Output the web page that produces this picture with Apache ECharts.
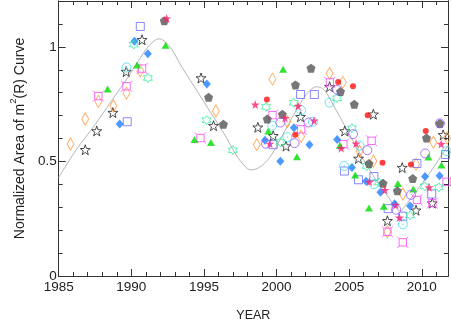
<!DOCTYPE html>
<html><head><meta charset="utf-8">
<script src="https://cdn.jsdelivr.net/npm/echarts@6/dist/echarts.min.js"></script>
<style>html,body{margin:0;padding:0;background:#fff}#c{width:451px;height:327px}</style>
</head><body><div id="c"></div>
<script>
// ---- data ----
const xTickLabels = [1985, 1990, 1995, 2000, 2005, 2010];
const yTickLabels = [0, 0.5, 1];

const curve = [[1985,0.43],[1986.2,0.55],[1987.5,0.66],[1988.7,0.77],[1989.8,0.87],[1990.7,0.96],[1991.3,1.01],[1991.9,1.035],[1992.6,1.005],[1993.5,0.91],[1994.5,0.81],[1995.5,0.71],[1996.4,0.62],[1997.2,0.53],[1997.8,0.48],[1998.2,0.463],[1998.7,0.47],[1999.3,0.5],[1999.8,0.544],[2000.8,0.66],[2001.8,0.77],[2002.3,0.81],[2002.75,0.826],[2003.3,0.81],[2004.0,0.735],[2004.7,0.655],[2005.4,0.573],[2006.3,0.473],[2007.0,0.405],[2007.7,0.344],[2008.2,0.3],[2008.5,0.284],[2008.9,0.31],[2009.5,0.36],[2010.2,0.42],[2010.8,0.473],[2011.8,0.57]];

const blackStar = [[1986.83,0.551],[1987.62,0.633],[1988.73,0.713],[1989.65,0.892],[1990.74,1.031],[1994.8,0.864],[1995.66,0.656],[1998.71,0.649],[1999.77,0.612],[2000.65,0.567],[2001.65,0.695],[2003.65,0.826],[2004.69,0.633],[2005.64,0.513],[2006.66,0.706],[2007.63,0.241],[2008.65,0.473],[2009.6,0.287],[2010.72,0.318],[2011.47,0.616]];
const orangeDiamond = [[1985.81,0.576],[1986.83,0.685],[1987.73,0.762],[1988.77,0.742],[1989.67,0.798],[1990.62,0.895],[1995.82,0.72],[1998.64,0.573],[1999.72,0.859],[2000.74,0.673],[2001.69,0.609],[2003.65,0.884],[2004.56,0.845],[2005.71,0.544],[2006.66,0.501],[2007.63,0.193],[2008.69,0.358],[2009.6,0.487],[2010.79,0.584],[2011.74,0.602]];
const magentaSquare = [[1987.73,0.785],[1989.67,0.828],[1990.74,0.905],[1994.76,0.602],[1999.72,0.702],[2001.69,0.64],[2003.67,0.845],[2004.6,0.575],[2006.54,0.59],[2007.63,0.193],[2008.69,0.147],[2009.66,0.332],[2010.72,0.318],[2011.7,0.411]];
const blueSquare = [[1989.72,0.673],[1990.62,1.089],[1999.77,0.573],[2001.65,0.792],[2002.6,0.792],[2004.67,0.458],[2005.64,0.42],[2006.7,0.434],[2007.68,0.294],[2008.69,0.261],[2009.66,0.491],[2010.68,0.358],[2011.63,0.53]];
const blueDiamond = [[1989.2,0.663],[1990.22,1.024],[1991.14,0.97],[1995.2,0.838],[1999.2,0.592],[2000.26,0.501],[2001.19,0.647],[2002.26,0.573],[2004.17,0.596],[2005.19,0.473],[2006.16,0.413],[2007.15,0.365],[2008.12,0.315],[2009.19,0.305],[2010.22,0.434],[2011.22,0.437]];
const greenTriangle = [[1988.37,0.816],[1990.4,0.921],[1992.36,1.007],[1994.35,0.596],[1995.48,0.583],[1999.43,0.633],[2000.45,0.902],[2001.4,0.52],[2004.36,0.569],[2005.41,0.441],[2006.36,0.297],[2007.38,0.304],[2008.35,0.404],[2009.41,0.38],[2010.45,0.519],[2011.35,0.484]];
const cyanCircle = [[1989.67,0.91],[1999.7,0.656],[2000.74,0.606],[2001.69,0.723],[2002.5,0.673],[2003.65,0.757],[2004.65,0.48],[2005.71,0.569],[2006.7,0.401],[2008.69,0.226],[2011.7,0.545]];
const greenHexagram = [[1990.17,1.01],[1991.14,0.864],[1995.18,0.68],[1996.99,0.549],[1999.27,0.738],[2000.26,0.584],[2001.19,0.756],[2004.17,0.776],[2005.19,0.645],[2006.2,0.48],[2007.06,0.408],[2009.19,0.265],[2010.2,0.391],[2011.17,0.387]];
const grayPentagon = [[1992.27,1.114],[1995.32,0.78],[1996.34,0.662],[1999.36,0.685],[2000.4,0.706],[2001.3,0.834],[2002.37,0.907],[2004.4,0.805],[2005.35,0.749],[2006.36,0.491],[2007.33,0.405],[2008.31,0.372],[2009.37,0.425],[2010.32,0.602],[2011.24,0.666]];
const redDot = [[1999.33,0.77],[2001.28,0.616],[2004.24,0.847],[2005.26,0.828],[2006.27,0.702],[2007.29,0.494],[2009.25,0.487],[2010.27,0.633]];
const pinkStar = [[1992.43,1.124],[1998.53,0.748],[1999.54,0.577],[2000.58,0.689],[2001.48,0.742],[2002.58,0.678],[2004.45,0.558],[2005.47,0.578],[2006.39,0.411],[2007.45,0.375],[2008.2,0.31],[2008.46,0.255],[2010.5,0.387],[2011.33,0.576]];
const purpleCircle = [[1999.27,0.577],[2000.26,0.67],[2001.24,0.58],[2002.21,0.67],[2004.17,0.812],[2005.26,0.619],[2006.25,0.549],[2008.24,0.289],[2009.25,0.354],[2010.23,0.535],[2011.24,0.666]];

// ---- symbol shapes ----
const STAR = 'path://M50 0 L61.76 33.82 L97.55 34.55 L69.02 56.18 L79.39 90.45 L50 70 L20.61 90.45 L30.98 56.18 L2.45 34.55 L38.24 33.82 Z';
const HEX = 'path://M50 0 L64.43 25 L93.3 25 L78.87 50 L93.3 75 L64.43 75 L50 100 L35.57 75 L6.7 75 L21.13 50 L6.7 25 L35.57 25 Z';
const PENT = 'path://M50 0 L97.55 34.55 L79.39 90.45 L20.61 90.45 L2.45 34.55 Z';
const FSQ = 'path://M20 20 L80 20 L80 80 L20 80 Z M20 20 L5 5 M80 20 L95 5 M80 80 L95 95 M20 80 L5 95';
const DOTC = 'path://M50 5 A45 45 0 1 1 49.9 5 Z M50 47 A3 3 0 1 1 49.9 47 Z';

const XMIN = 1985, XMAX = 2011.8, YMIN = 0, YMAX = 1.2;
const AX = '#333', TXT = '#222', FONT = 'Liberation Sans';

function sc(data, symbol, size, color, filled, z) {
  return {
    type: 'scatter', data, symbol, symbolSize: size, z: z || 3,
    itemStyle: filled ? { color, borderWidth: 0 } : { color: 'rgba(0,0,0,0)', borderColor: color, borderWidth: 1 },
    emphasis: { disabled: true }
  };
}
function isTick(v, list) { return list.some(t => Math.abs(t - v) < 1e-6); }

function xA(pos, interval, len, labels, extra) {
  return Object.assign({
    type: 'value', position: pos, min: XMIN, max: XMAX, interval,
    axisLine: { show: true, onZero: false, lineStyle: { color: AX, width: 1 } },
    axisTick: { show: true, inside: true, length: len, lineStyle: { color: AX } },
    axisLabel: labels ? { show: true, margin: 4, fontSize: 13.5, color: TXT, fontFamily: FONT,
      formatter: v => isTick(v, xTickLabels) ? String(v) : '' } : { show: false },
    splitLine: { show: false }
  }, extra || {});
}
function yA(pos, interval, len, labels, extra) {
  return Object.assign({
    type: 'value', position: pos, min: YMIN, max: YMAX, interval,
    axisLine: { show: true, onZero: false, lineStyle: { color: AX, width: 1 } },
    axisTick: { show: true, inside: true, length: len, lineStyle: { color: AX } },
    axisLabel: labels ? { show: true, margin: 2, fontSize: 13.5, color: TXT, fontFamily: FONT,
      formatter: v => isTick(v, yTickLabels) ? String(v) : '' } : { show: false },
    splitLine: { show: false }
  }, extra || {});
}

const chart = echarts.init(document.getElementById('c'), null, { renderer: 'canvas' });
chart.setOption({
  animation: false,
  backgroundColor: '#fff',
  grid: { left: 52, right: 3, top: 1, bottom: 46, containLabel: false },
  xAxis: [
    xA('bottom', 5, 7, true, { name: 'YEAR', nameLocation: 'middle', nameGap: 33,
      nameTextStyle: { fontSize: 12.5, color: TXT, fontFamily: FONT } }),
    xA('bottom', 1, 4, false),
    xA('top', 5, 7, false),
    xA('top', 1, 4, false)
  ],
  yAxis: [
    yA('left', 0.5, 7, true, { name: '{a|Normalized Area of m}{s|2}{a|(R) Curve}', nameLocation: 'middle', nameGap: 28,
      nameTextStyle: { fontSize: 14, color: TXT, fontFamily: FONT,
        rich: { a: { fontSize: 14, color: TXT, fontFamily: FONT, lineHeight: 19, verticalAlign: 'bottom' },
                s: { fontSize: 9.5, color: TXT, fontFamily: FONT, lineHeight: 19, verticalAlign: 'top' } } } }),
    yA('left', 0.1, 4, false),
    yA('right', 0.5, 7, false),
    yA('right', 0.1, 4, false)
  ],
  series: [
    { type: 'line', data: curve, smooth: 0.35, showSymbol: false, symbol: 'none', z: 2,
      lineStyle: { color: '#b4b4b4', width: 1 }, emphasis: { disabled: true } },
    sc(blackStar, STAR, 10, '#222', false),
    sc(orangeDiamond, 'diamond', [7, 12], '#ff9a3c', false),
    sc(magentaSquare, FSQ, 11, '#ff44ff', false),
    sc(blueSquare, 'rect', 8, '#6b6bff', false),
    sc(blueDiamond, 'diamond', [8, 9], '#1f7fff', true),
    sc(greenTriangle, 'triangle', [8, 7], '#00dd00', true),
    sc(cyanCircle, DOTC, 9, '#40e0e8', false),
    sc(greenHexagram, HEX, 9, '#33ee99', false),
    sc(grayPentagon, PENT, 9, '#555555', true),
    sc(redDot, 'circle', 6, '#ff1010', true),
    sc(pinkStar, STAR, 9, '#ff2070', true),
    sc(purpleCircle, 'circle', 9, '#9955ff', false)
  ]
});
</script>
</body></html>
